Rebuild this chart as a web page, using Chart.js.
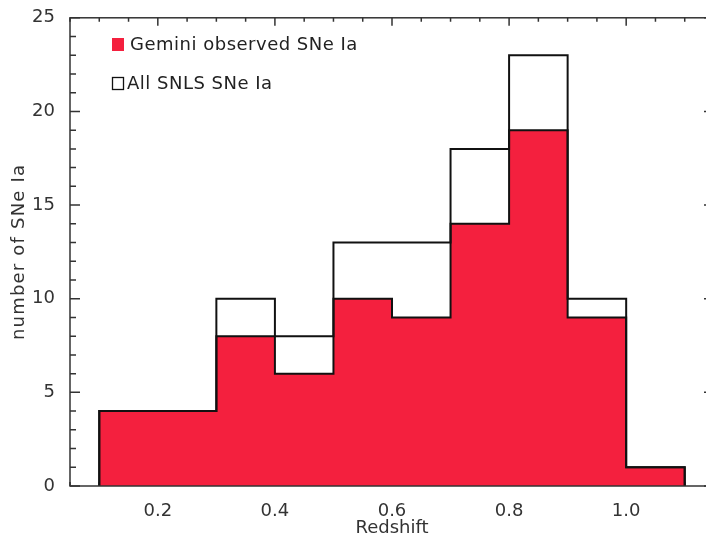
<!DOCTYPE html>
<html>
<head>
<meta charset="utf-8">
<script src="https://cdn.jsdelivr.net/npm/chart.js@4.4.1/dist/chart.umd.min.js"></script>
<style>
  html, body { margin: 0; padding: 0; background: #fff; overflow: hidden; }
  #wrap { position: relative; width: 720px; height: 540px; }
</style>
</head>
<body>
<div id="wrap"><canvas id="histChart"></canvas></div>
<script>
// bin edges (redshift) and counts per bin
const binEdges = [0.1, 0.2, 0.3, 0.4, 0.5, 0.6, 0.7, 0.8, 0.9, 1.0, 1.1];
const geminiCounts = [4, 4, 8, 6, 10, 9, 14, 19, 9, 1];
const allCounts = [4, 4, 10, 8, 13, 13, 18, 23, 10, 1];
const xTicks = [0.2, 0.4, 0.6, 0.8, 1.0];
const yTicks = [0, 5, 10, 15, 20, 25];

const RED = '#f4203e';
const AXIS = '#333333';
const FONT = '"DejaVu Sans", sans-serif';

// turn bin counts into step points: up at the first edge, down at the last
function stepPoints(counts) {
    const pts = [{ x: binEdges[0], y: 0 }];
    counts.forEach((c, i) => pts.push({ x: binEdges[i], y: c }));
    pts.push({ x: binEdges[binEdges.length - 1], y: 0 });
    return pts;
}

// inward ticks on all four sides (under the histogram), frame, legend, titles
const frameTicks = {
    id: 'frameTicks',
    beforeDatasetsDraw(chart) {
        const { ctx, chartArea: a, scales: { x, y } } = chart;
        ctx.save();
        ctx.strokeStyle = AXIS;
        ctx.lineWidth = 1.5;
        for (let k = 1; k * 0.05 < x.max + 1e-9; k++) {
            const v = k * 0.05;
            if (v < x.min - 1e-9) continue;
            const px = x.getPixelForValue(v);
            const len = k % 4 === 0 ? 8 : 4;
            ctx.beginPath();
            ctx.moveTo(px, a.bottom); ctx.lineTo(px, a.bottom - len);
            ctx.moveTo(px, a.top); ctx.lineTo(px, a.top + len);
            ctx.stroke();
        }
        for (let v = y.min; v <= y.max; v++) {
            const py = y.getPixelForValue(v);
            const len = v % 5 === 0 ? 10 : 6;
            ctx.beginPath();
            ctx.moveTo(a.left, py); ctx.lineTo(a.left + len, py);
            ctx.moveTo(a.right, py); ctx.lineTo(a.right - len, py);
            ctx.stroke();
        }
        ctx.restore();
    },
    afterDraw(chart) {
        const { ctx, chartArea: a } = chart;
        ctx.save();
        ctx.strokeStyle = AXIS;
        ctx.lineWidth = 1.5;
        ctx.strokeRect(a.left, a.top, a.right - a.left, a.bottom - a.top);

        // legend inside the plot, top left
        const ds = chart.data.datasets;
        ctx.font = '18px ' + FONT;
        ctx.textBaseline = 'middle';
        ctx.letterSpacing = '0.5px';
        ctx.fillStyle = RED;
        ctx.fillRect(a.left + 42, 38, 12, 13);
        ctx.fillStyle = '#222';
        ctx.fillText(ds[1].label, a.left + 60, 45);
        ctx.strokeStyle = '#111';
        ctx.lineWidth = 1.3;
        ctx.strokeRect(a.left + 42.5, 77.5, 11, 12);
        ctx.fillText(ds[0].label, a.left + 57, 84);

        // axis titles
        ctx.fillStyle = '#333';
        ctx.textAlign = 'center';
        ctx.letterSpacing = '0px';
        ctx.fillText('Redshift', (a.left + a.right) / 2, 528);
        ctx.letterSpacing = '1.2px';
        ctx.translate(19, (a.top + a.bottom) / 2);
        ctx.rotate(-Math.PI / 2);
        ctx.fillText('number of SNe Ia', 0, 0);
        ctx.restore();
    }
};

new Chart(document.getElementById('histChart'), {
    type: 'line',
    data: {
        datasets: [
            {
                label: 'All SNLS SNe Ia',
                data: stepPoints(allCounts),
                stepped: 'before',
                borderColor: '#111',
                borderWidth: 2,
                fill: false,
                pointRadius: 0,
                order: 0
            },
            {
                label: 'Gemini observed SNe Ia',
                data: stepPoints(geminiCounts),
                stepped: 'before',
                borderColor: '#111',
                borderWidth: 2,
                backgroundColor: RED,
                fill: 'origin',
                pointRadius: 0,
                order: 1
            }
        ]
    },
    options: {
        responsive: true,
        maintainAspectRatio: false,
        animation: false,
        layout: { padding: { top: 10, right: 6, left: 0, bottom: 0 } },
        plugins: {
            legend: { display: false },
            tooltip: { enabled: false }
        },
        scales: {
            x: {
                type: 'linear',
                min: 0.05,
                max: 1.15,
                afterBuildTicks: s => { s.ticks = xTicks.map(v => ({ value: v })); },
                afterFit: s => { s.height = 54; },
                grid: { display: false },
                border: { display: false },
                ticks: {
                    padding: 7,
                    color: '#333',
                    font: { family: FONT, size: 18 },
                    callback: v => v.toFixed(1)
                }
            },
            y: {
                min: 0,
                max: 25,
                afterBuildTicks: s => { s.ticks = yTicks.map(v => ({ value: v })); },
                afterFit: s => { s.width = 70; },
                grid: { display: false },
                border: { display: false },
                ticks: {
                    padding: 7,
                    color: '#333',
                    font: { family: FONT, size: 18 }
                }
            }
        }
    },
    plugins: [frameTicks]
});
</script>
</body>
</html>
